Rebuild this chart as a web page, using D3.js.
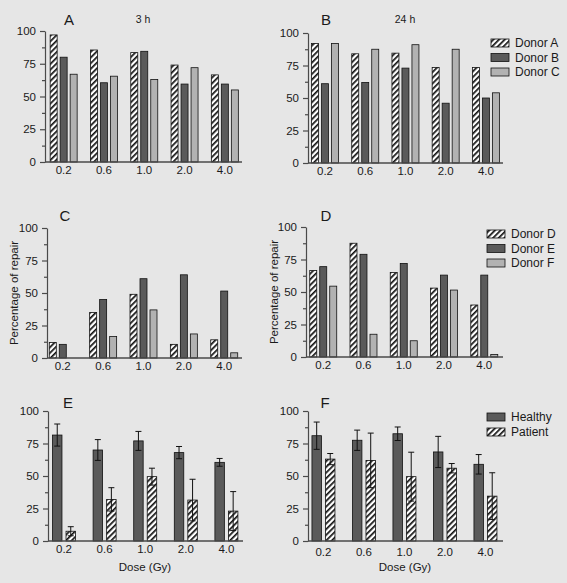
<!DOCTYPE html>
<html><head><meta charset="utf-8">
<script src="https://cdn.jsdelivr.net/npm/d3@7"></script>
<style>
html,body{margin:0;padding:0;background:#e6e6e6;}
svg{display:block;font-family:"Liberation Sans",Arial,Helvetica,sans-serif;}
</style></head>
<body><svg id="chart" width="567" height="583"></svg>
<script>
// ---------- data ----------
const doses = ["0.2", "0.6", "1.0", "2.0", "4.0"];
const yTicks = [0, 25, 50, 75, 100];
const yMinorTicks = [12.5, 37.5, 62.5, 87.5];

const donorsABC = ["Donor A", "Donor B", "Donor C"];
const donorsDEF = ["Donor D", "Donor E", "Donor F"];
const groups = ["Healthy", "Patient"];

// Panel A (3 h)
const a_donorA = [97, 85.5, 83.5, 74, 66.5];
const a_donorB = [80, 60.5, 84.5, 59.5, 59.5];
const a_donorC = [67, 65.5, 63, 72, 55];
// Panel B (24 h)
const b_donorA = [92, 84, 84.5, 73.5, 73.5];
const b_donorB = [61, 62, 73, 46, 50];
const b_donorC = [92, 87.5, 91, 87.5, 54];
// Panel C
const c_donorD = [12, 35, 49, 10.5, 14];
const c_donorE = [10.5, 45, 61, 64, 51.5];
const c_donorF = [0, 16.5, 37, 18.5, 4];
// Panel D
const d_donorD = [66.5, 87.5, 65, 53, 40];
const d_donorE = [69.5, 79, 72, 63, 63];
const d_donorF = [54.5, 17.5, 12.5, 51.5, 2];
// Panel E (mean ± error)
const e_healthy = [81.5, 70, 77, 68, 60.5];
const e_healthyErr = [8.5, 8, 7.3, 4.7, 3];
const e_patient = [7.5, 32, 49.5, 31.5, 23];
const e_patientErr = [3.5, 9, 6.5, 16, 15];
// Panel F (mean ± error)
const f_healthy = [81, 77.5, 82.5, 68.5, 59];
const f_healthyErr = [10.5, 7.8, 5.2, 12, 7.5];
const f_patient = [63, 62, 49.5, 56, 34.5];
const f_patientErr = [4.3, 21, 18.8, 3.6, 18];

// ---------- styles ----------
const svg = d3.select("#chart");
svg.append("rect").attr("width", 567).attr("height", 583).attr("fill", "#e6e6e6");
const defs = svg.append("defs");
const pat = defs.append("pattern").attr("id", "hatch").attr("patternUnits", "userSpaceOnUse")
  .attr("width", 4).attr("height", 4).attr("patternTransform", "rotate(45)");
pat.append("rect").attr("width", 4).attr("height", 4).attr("fill", "#ffffff");
pat.append("rect").attr("x", 0).attr("y", 0).attr("width", 1.7).attr("height", 4).attr("fill", "#111");

const fills = {hatch: "url(#hatch)", dark: "#5a5a5a", light: "#b2b2b2"};
const axisColor = "#4a4a4a";
const textColor = "#1a1a1a";

// ---------- layout (geometry only) ----------
const panels = [
  {letter: "A", sub: "3 h", ax: 45, axEnd: 242, band: [43.5, 245], yTop: 31, y0: 162, letterX: 69, subX: 143, letterY: 25,
   series: [a_donorA, a_donorB, a_donorC], styles: ["hatch", "dark", "light"], inner: 13.5},
  {letter: "B", sub: "24 h", ax: 308, axEnd: 503, band: [304.9, 506], yTop: 33, y0: 163, letterX: 326, subX: 405, letterY: 25,
   series: [b_donorA, b_donorB, b_donorC], styles: ["hatch", "dark", "light"], inner: 13.5,
   legend: {names: donorsABC, x: 491, ys: [43, 57.5, 72]}},
  {letter: "C", ax: 47, axEnd: 242, band: [42.6, 244.4], yTop: 228, y0: 358, letterX: 65, letterY: 221, ylab: 14,
   series: [c_donorD, c_donorE, c_donorF], styles: ["hatch", "dark", "light"], inner: 13.5},
  {letter: "D", ax: 306, axEnd: 503, band: [303.1, 504.4], yTop: 227, y0: 357, letterX: 326, letterY: 221, ylab: 274,
   series: [d_donorD, d_donorE, d_donorF], styles: ["hatch", "dark", "light"], inner: 13.5,
   legend: {names: donorsDEF, x: 487, ys: [234, 248.5, 263]}},
  {letter: "E", ax: 48, axEnd: 243, band: [43.7, 246.7], yTop: 411, y0: 541, letterX: 68, letterY: 408, xlab: 145,
   series: [e_healthy, e_patient], errs: [e_healthyErr, e_patientErr], styles: ["dark", "hatch"], inner: 11.5},
  {letter: "F", ax: 308, axEnd: 503, band: [303.2, 505.7], yTop: 411, y0: 541, letterX: 325, letterY: 408, xlab: 405, tickDy: 3,
   series: [f_healthy, f_patient], errs: [f_healthyErr, f_patientErr], styles: ["dark", "hatch"], inner: 11.5,
   legend: {names: groups, x: 487, ys: [417, 432]}}
];

panels.forEach(p => {
  const g = svg.append("g");
  const y = d3.scaleLinear().domain([0, 100]).range([p.y0, p.yTop]);
  const x = d3.scaleBand().domain(doses).range(p.band).padding(0);
  const sIdx = d3.range(p.series.length);
  const xi = d3.scaleBand().domain(sIdx).range([-p.inner, p.inner]).paddingInner(0.3).paddingOuter(0);

  // bars
  p.series.forEach((vals, si) => {
    g.selectAll(null).data(vals).join("rect")
      .attr("x", (d, i) => x(doses[i]) + x.bandwidth() / 2 + xi(si))
      .attr("y", d => y(d))
      .attr("width", xi.bandwidth())
      .attr("height", d => Math.max(0, p.y0 - y(d)))
      .attr("fill", fills[p.styles[si]])
      .attr("stroke", "#111").attr("stroke-width", 0.8)
      .attr("display", d => d > 0 ? null : "none");
  });

  // error bars
  if (p.errs) {
    p.series.forEach((vals, si) => {
      const errs = p.errs[si];
      vals.forEach((v, i) => {
        const cx = x(doses[i]) + x.bandwidth() / 2 + xi(si) + xi.bandwidth() / 2;
        const hi = y(v + errs[i]), lo = y(v - errs[i]);
        g.append("line").attr("x1", cx).attr("x2", cx).attr("y1", hi).attr("y2", lo)
          .attr("stroke", "#111").attr("stroke-width", 1);
        [hi, lo].forEach(yy => g.append("line").attr("x1", cx - 3).attr("x2", cx + 3)
          .attr("y1", yy).attr("y2", yy).attr("stroke", "#111").attr("stroke-width", 1));
      });
    });
  }

  // y axis
  const yAxis = g.append("g").attr("transform", `translate(${p.ax},0)`)
    .call(d3.axisLeft(y).tickValues(yTicks).tickSize(5).tickSizeOuter(0).tickPadding(4).tickFormat(d3.format("d")));
  g.append("g").attr("transform", `translate(${p.ax},0)`)
    .call(d3.axisLeft(y).tickValues(yMinorTicks).tickSize(3).tickSizeOuter(0).tickFormat(""))
    .call(a => a.select(".domain").remove());
  // x axis
  const xAxis = g.append("g").attr("transform", `translate(0,${p.y0})`)
    .call(d3.axisBottom(x).tickSize(0).tickPadding(4 + (p.tickDy || 0)));
  xAxis.select(".domain").remove();
  g.append("line").attr("x1", p.ax).attr("x2", p.axEnd).attr("y1", p.y0).attr("y2", p.y0)
    .attr("stroke", axisColor).attr("stroke-width", 1.6);

  g.selectAll(".domain, .tick line").attr("stroke", axisColor).attr("stroke-width", 1.2);
  g.selectAll(".tick text").attr("fill", textColor).attr("font-size", 11.5)
    .attr("font-family", '"Liberation Sans",Arial,sans-serif');

  // letters
  g.append("text").attr("x", p.letterX).attr("y", p.letterY).attr("text-anchor", "middle")
    .attr("font-size", 15).attr("fill", textColor).text(p.letter);
  if (p.sub) g.append("text").attr("x", p.subX).attr("y", 23).attr("text-anchor", "middle")
    .attr("font-size", 10.5).attr("fill", textColor).text(p.sub);
  if (p.ylab !== undefined) g.append("text")
    .attr("transform", `translate(${p.ylab + 4},${(p.yTop + p.y0) / 2}) rotate(-90)`)
    .attr("text-anchor", "middle").attr("font-size", 11.5).attr("fill", textColor).text("Percentage of repair");
  if (p.xlab !== undefined) g.append("text").attr("x", p.xlab).attr("y", 571)
    .attr("text-anchor", "middle").attr("font-size", 11.5).attr("fill", textColor).text("Dose (Gy)");

  // legend
  if (p.legend) {
    p.legend.names.forEach((nm, k) => {
      const yy = p.legend.ys[k];
      g.append("rect").attr("x", p.legend.x).attr("y", yy - 4).attr("width", 18).attr("height", 8)
        .attr("fill", fills[p.styles[k]]).attr("stroke", "#111").attr("stroke-width", 0.8);
      g.append("text").attr("x", p.legend.x + 24).attr("y", yy).attr("dy", "0.35em")
        .attr("font-size", 12).attr("fill", textColor).text(nm);
    });
  }
});
</script></body></html>
